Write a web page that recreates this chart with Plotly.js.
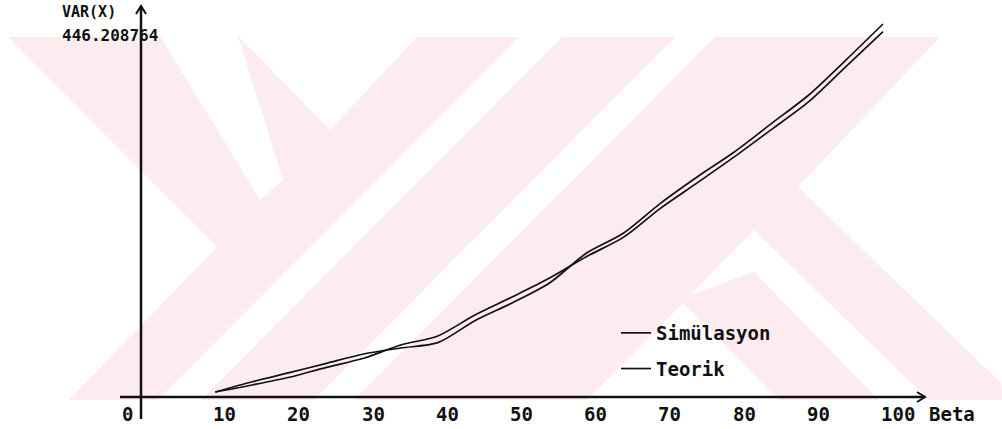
<!DOCTYPE html>
<html>
<head>
<meta charset="utf-8">
<script src="https://cdn.plot.ly/plotly-3.0.1.min.js"></script>
<style>html,body{margin:0;padding:0;background:#fff;}#chart{width:1002px;height:429px;}</style>
</head>
<body>
<div id="chart"></div>
<script>
// ---- data ----
const beta = [10, 15, 20, 25, 30, 35, 40, 45, 50, 55, 60, 65, 70, 75, 80, 85, 90, 95, 100];
const simulasyon = [6, 18.3, 29.1, 40.3, 51.4, 58.6, 65.0, 91.3, 112.4, 136.0, 171.9, 195.8, 231.7, 263.5, 293.4, 327.4, 361.3, 403.1, 446.2];
const teorik = [6, 14.4, 23.6, 35.5, 46.3, 62.2, 73.0, 98.1, 119.6, 142.0, 167.8, 191.0, 225.7, 256.4, 287.5, 320.2, 353.3, 395.1, 437.0];
const tickValues = [10, 20, 30, 40, 50, 60, 70, 80, 90, 100];
const tickLabels = ['10', '20', '30', '40', '50', '60', '70', '80', '90', '100'];
const yMaxLabel = '446.208764';
const yMax = 446.208764;
const xTitle = 'Beta';
const yTitle = 'VAR(X)';
const seriesNames = ['Simülasyon', 'Teorik'];

// ---- layout geometry ----
const W = 1002, H = 429;
const x0px = 141, x100px = 883;        // pixel of beta=0 and beta=100
const y0px = 397, yMaxPx = 24;         // pixel of 0 and of yMax
const pxPerX = (x100px - x0px) / 100;
const pxPerY = (y0px - yMaxPx) / yMax;
const xRange = [-x0px / pxPerX, (W - x0px) / pxPerX];
const yRange = [-(H - y0px) / pxPerY, y0px / pxPerY];
const FONT = '"DejaVu Sans Mono", monospace';
const INK = '#111111';
const PINK = '#fdecef';

function px2x(p) { return (p - x0px) / pxPerX; }
function py2y(p) { return (y0px - p) / pxPerY; }
function pp(px, py) { return (px / W).toFixed(4) + ',' + (1 - py / H).toFixed(4); }
function poly(pts) { return 'M' + pts.map(p => pp(p[0], p[1])).join(' L') + ' Z'; }

// watermark (decorative background)
const shapes = [];
shapes.push({type: 'path', xref: 'paper', yref: 'paper', layer: 'below', line: {width: 0}, fillcolor: PINK,
  path: poly([[7, 37], [941, 37], [1002, 37], [1002, 400], [0, 400], [0, 37]])});
const whites = [
  [[0, 36], [7, 36], [217, 247], [68, 401], [0, 401]],
  [[941, 36], [1003, 36], [1003, 401], [1001, 383], [798, 187]],
  [[238, 36], [330, 130], [418, 36]],
  [[160, 36], [238, 36], [283, 180], [260, 200]],
  [[157, 401], [200, 401], [563, 36], [520, 36]],
  [[313, 401], [353, 401], [716, 36], [676, 36]],
  [[586, 401], [683, 303], [780, 401]],
  [[690, 295], [754, 230], [930, 401], [880, 401], [754, 272]]
];
whites.forEach(w => shapes.push({type: 'path', xref: 'paper', yref: 'paper', layer: 'below', line: {width: 0}, fillcolor: '#ffffff', path: poly(w)}));

// axes with arrows
const xAxisEnd = px2x(925), yAxisTop = py2y(6);
shapes.push({type: 'line', xref: 'x', yref: 'y', x0: px2x(120), x1: xAxisEnd, y0: 0, y1: 0, line: {color: INK, width: 2.5}});
shapes.push({type: 'line', xref: 'x', yref: 'y', x0: 0, x1: 0, y0: py2y(419), y1: yAxisTop, line: {color: INK, width: 2.5}});
shapes.push({type: 'path', xref: 'x', yref: 'y', xsizemode: 'pixel', ysizemode: 'pixel', xanchor: xAxisEnd, yanchor: 0,
  path: 'M -8 5 L 0 0 L -8 -5', line: {color: INK, width: 2}});
shapes.push({type: 'path', xref: 'x', yref: 'y', xsizemode: 'pixel', ysizemode: 'pixel', xanchor: 0, yanchor: yAxisTop,
  path: 'M -5 -8 L 0 0 L 5 -8', line: {color: INK, width: 2}});

const annotations = [];
tickValues.forEach((v, i) => annotations.push({x: v, y: 0, xref: 'x', yref: 'y', text: tickLabels[i], showarrow: false,
  xanchor: 'left', yanchor: 'middle', xshift: -4, yshift: -17, font: {family: FONT, size: 19, color: INK, weight: 'bold'}}));
annotations.push({x: 0, y: 0, xref: 'x', yref: 'y', text: '0', showarrow: false, xanchor: 'right', yanchor: 'middle',
  xshift: -6, yshift: -17, font: {family: FONT, size: 19, color: INK, weight: 'bold'}});
annotations.push({x: 100, y: 0, xref: 'x', yref: 'y', text: xTitle, showarrow: false, xanchor: 'left', yanchor: 'middle',
  xshift: 44, yshift: -17, font: {family: FONT, size: 19, color: INK, weight: 'bold'}});
annotations.push({x: 0, y: 0, xref: 'x', yref: 'paper', text: yTitle, showarrow: false, xanchor: 'left', yanchor: 'middle',
  xshift: -81, y: 1 - 12.5 / H, font: {family: FONT, size: 15, color: INK, weight: 'bold'}});
annotations.push({x: 0, y: yMax, xref: 'x', yref: 'y', text: yMaxLabel, showarrow: false, xanchor: 'left', yanchor: 'middle',
  xshift: -81, yshift: -11, font: {family: FONT, size: 16, color: INK, weight: 'bold'}});

const traces = [
  {x: beta, y: simulasyon, name: seriesNames[0], mode: 'lines', line: {color: INK, width: 1.7, shape: 'spline', smoothing: 0.8}, legendgroup: 'a'},
  {x: beta, y: teorik, name: seriesNames[1], mode: 'lines', line: {color: INK, width: 1.7, shape: 'spline', smoothing: 0.8}, legendgroup: 'b'}
];

const layout = {
  width: W, height: H,
  margin: {l: 0, r: 0, t: 0, b: 0, pad: 0},
  paper_bgcolor: '#ffffff', plot_bgcolor: 'rgba(0,0,0,0)',
  xaxis: {range: xRange, visible: false, fixedrange: true},
  yaxis: {range: yRange, visible: false, fixedrange: true},
  showlegend: true,
  legend: {x: 616 / W, y: 1 - 314 / H, xanchor: 'left', yanchor: 'top', bgcolor: 'rgba(0,0,0,0)',
    font: {family: FONT, size: 19, color: INK, weight: 'bold'}, tracegroupgap: 8, itemwidth: 30},
  shapes: shapes,
  annotations: annotations
};

Plotly.newPlot('chart', traces, layout, {staticPlot: true, displayModeBar: false});
</script>
</body>
</html>
